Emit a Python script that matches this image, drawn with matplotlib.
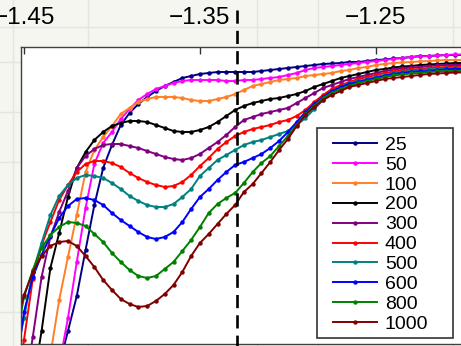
import numpy as np
import matplotlib
matplotlib.use('Agg')
import matplotlib.pyplot as plt
from matplotlib.patches import Rectangle
from matplotlib.lines import Line2D
from matplotlib.transforms import Bbox

plt.rcParams['font.family'] = ['Liberation Sans', 'DejaVu Sans']
plt.rcParams['savefig.bbox'] = 'standard'

nan = np.nan

# potential (V), scan points
potential = [-1.455, -1.450, -1.445, -1.440, -1.435, -1.430, -1.425, -1.420, -1.415, -1.410,
             -1.405, -1.400, -1.395, -1.390, -1.385, -1.380, -1.375, -1.370, -1.365, -1.360,
             -1.355, -1.350, -1.345, -1.340, -1.335, -1.330, -1.325, -1.320, -1.315, -1.310,
             -1.305, -1.300, -1.295, -1.290, -1.285, -1.280, -1.275, -1.270, -1.265, -1.260,
             -1.255, -1.250, -1.245, -1.240, -1.235, -1.230, -1.225, -1.220, -1.215, -1.210,
             -1.205, -1.200]

# current (a.u.)
i_25 = [nan, nan, nan, nan, nan, -21, 13, 48, 94, 139, 176, 199, 219, 231, 240, 247, 253, 258,
        262, 266, 268, 270, 271, 272, 272, 272, 272, 272, 273, 274, 275, 276, 277, 278, 279,
        280, 280.5, 281, 282, 282, 283, 284, 284.5, 285.5, 286, 287, 288, 288, 288.5, 289, 289, 289]
i_50 = [nan, nan, nan, nan, nan, -21, 26, 82, 136, 180, 201, 212, 225, 235, 244, 250, 255, 258,
        261, 263, 264, 264, 264, 264, 263, 263, 264, 264, 265, 266, 267, 269, 271, 274, 276,
        277, 278, 279, 280, 281, 282, 283, 284, 285, 286, 287, 287.5, 288, 288.5, 289, 289.5, 289.5]
i_100 = [nan, nan, nan, nan, -11, 44, 87, 129, 172, 194, 207, 218, 230, 236, 242, 245, 247, 247,
         247, 246, 244, 243, 243, 245, 247, 250, 254, 258, 260, 262, 264, 265, 266, 268, 269,
         270, 271, 273, 274, 276, 277, 279, 280, 281, 281.5, 282, 282.5, 283, 283.5, 284, 284, 284]
i_200 = [nan, nan, -41, 13, 76, 111, 147, 176, 192, 204, 212, 218, 221, 223, 223, 222, 219, 216,
         213, 212, 212, 214, 217, 222, 228, 234, 238, 241, 243, 245, 246, 248, 250, 253, 257,
         260, 263, 266, 268, 270, 272, 274, 275, 276.5, 277.5, 278, 279, 279.5, 280, 280.5, 281, 281]
i_300 = [nan, -51, 7, 67, 107, 132, 153, 176, 188, 195, 199, 200, 200, 198, 196, 193, 190, 187,
         185, 184, 186, 190, 196, 202, 209, 217, 224, 227, 230, 232, 234, 236, 241, 246, 251,
         256, 259, 262, 265, 267, 269, 271, 273, 274.5, 275.5, 276.5, 277, 278, 278.5, 279, 279, 279]
i_400 = [-56, 4, 65, 99, 122, 144, 159, 172, 180, 183, 183, 181, 177, 171, 166, 162, 159, 157,
         158, 162, 169, 178, 186, 195, 202, 208, 212, 215, 217, 219, 222, 224, 228, 234, 242,
         249, 255, 259, 262, 265, 267, 269, 271, 272.5, 273.5, 274.5, 275, 276, 276.5, 277, 277, 277]
i_500 = [-16, 26, 72, 101, 129, 148, 159, 166, 169, 168, 166, 161, 155, 148, 143, 139, 137, 137,
         140, 147, 155, 168, 176, 184, 189, 194, 199, 202, 204, 207, 210, 213, 219, 226, 235,
         244, 252, 257, 261, 263, 265, 267, 269, 271, 272, 273, 274, 274.5, 275, 275.5, 276, 276]
i_600 = [-31, 32, 67, 89, 108, 126, 138, 145, 146, 144, 139, 131, 124, 118, 112, 107, 105, 107,
         112, 122, 135, 147, 155, 164, 172, 179, 182, 186, 190, 196, 203, 212, 222, 232, 240,
         247, 253, 257, 260, 262, 264, 266, 268, 270, 271, 272, 272.5, 273, 274, 274.5, 275, 275]
i_800 = [-1, 47, 74, 96, 109, 117, 122, 121, 118, 110, 102, 91, 82, 74, 68, 66, 68, 75,
         82, 93, 104, 117, 131, 140, 146, 151, 161, 172, 181, 188, 198, 208, 219, 230, 238,
         246, 251, 255, 258, 261, 263, 265, 267, 268.5, 269.5, 270.5, 271, 272, 272.5, 273, 273, 273]
i_1000 = [14, 49, 72, 88, 98, 102, 103, 98, 88, 77, 64, 54, 45, 40, 37, 38, 43, 50,
          59, 72, 88, 101, 110, 120, 130, 139, 152, 160, 171, 182, 194, 205, 218, 229, 237,
          244, 249, 253, 257, 259, 261, 263, 265, 266, 267, 268, 269, 270, 270.5, 271, 271.5, 271.5]

labels = ['25', '50', '100', '200', '300', '400', '500', '600', '800', '1000']
series = [i_25, i_50, i_100, i_200, i_300, i_400, i_500, i_600, i_800, i_1000]
colors = ['#000080', '#ff00ff', '#ff7f27', '#000000', '#800080',
          '#ff0000', '#008080', '#0000ff', '#008000', '#800000']

xticks = [-1.45, -1.35, -1.25]
xticklabels = ['\u22121.45', '\u22121.35', '\u22121.25']
marker_v = -1.329

W, H = 461, 346
fig = plt.figure(figsize=(W / 100, H / 100), dpi=100, facecolor='#f6f6f1')

# faint background grid outside the plot
for yy in [27, 62, 112, 162, 212, 262, 312]:
    fig.add_artist(Line2D([0, 1], [1 - yy / H, 1 - yy / H], color='#e5e5db', lw=1, zorder=-1))
for xx in [13, 88, 257, 318, 453]:
    fig.add_artist(Line2D([xx / W, xx / W], [0, 1], color='#e5e5db', lw=1, zorder=-1))

ax = fig.add_axes([21 / W, 2 / H, 478 / W, 297 / H])
ax.set_facecolor('white')

handles = []
for y, c, lab in zip(series, colors, labels):
    ln, = ax.plot(potential, y, color=c, lw=1.4, marker='o', ms=3.2, mew=0, label=lab)
    handles.append(ln)

ax.plot([marker_v, marker_v], [334, -2], color='black', lw=1.9, dashes=(5.0, 2.7),
        clip_on=False, zorder=6)

ax.set_xlim(-1.4517, -1.18)
ax.set_ylim(0, 297)
ax.set_yticks([])
ax.xaxis.tick_top()
ax.set_xticks(xticks)
ax.set_xticklabels(xticklabels)
ax.tick_params(axis='x', top=True, bottom=False, direction='in', length=5, width=1,
               pad=13, labelsize=17.5, color='#333333')
for s in ax.spines.values():
    s.set_color('#404040')
    s.set_linewidth(1)

# legend box
ax.add_patch(Rectangle((317 / W, 1 - 338 / H), 136 / W, 210 / H, transform=fig.transFigure,
                       facecolor='white', edgecolor='#333333', lw=1.2, zorder=4, clip_on=False))
leg = ax.legend(handles, labels, loc='upper left', bbox_to_anchor=(333 / W, 1 - 136 / H),
                bbox_transform=fig.transFigure, frameon=False, borderpad=0, borderaxespad=0,
                handlelength=2.26, handletextpad=0.41, labelspacing=0.12, prop={'size': 14})
leg.set_zorder(5)

fig.savefig('out.png', dpi=100, facecolor=fig.get_facecolor(),
            bbox_inches=Bbox.from_bounds(0, 0, W / 100, H / 100))
